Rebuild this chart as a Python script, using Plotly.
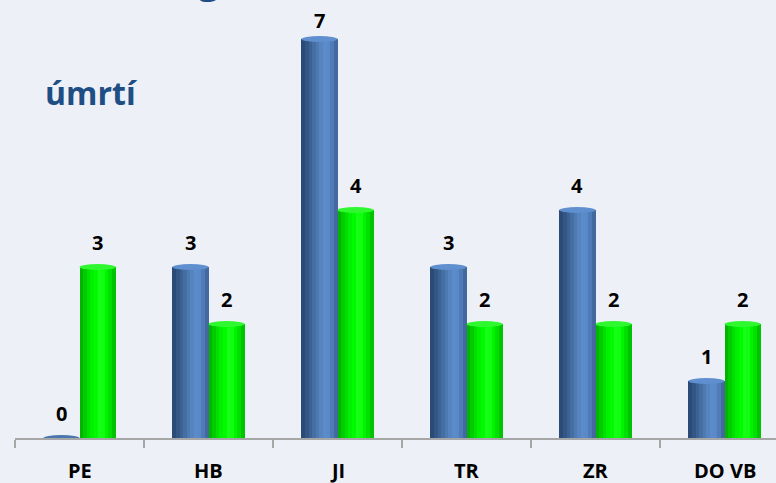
import plotly.graph_objects as go

categories = ["PE", "HB", "JI", "TR", "ZR", "DO VB"]
blue_values = [0, 3, 7, 3, 4, 1]
green_values = [3, 2, 4, 2, 2, 2]
side_label = "úmrtí"
title_fragment = "g"

# styling (cylinder shading simulated by vertical stripes)
blue_shades = ["#2a4a77", "#335685", "#3c6294", "#456ea3", "#4e7ab2", "#5684c0",
               "#5b8bc9", "#5a89c7", "#4f7cb8", "#43699f"]
green_shades = ["#00b400", "#00cc00", "#00e000", "#00f000", "#00fa00", "#18ff18",
                "#10ff10", "#00f400", "#00e000", "#00c400"]
bar_w = 0.28
n = len(blue_shades)
sw = bar_w / n

W, H = 776, 483
left = 15
plot_bottom = 438
unit = 57.0
ymax = plot_bottom / unit

fig = go.Figure()
idx = list(range(len(categories)))
for k, c in enumerate(blue_shades):
    fig.add_trace(go.Bar(x=idx, y=blue_values, width=sw * 1.06, offset=-bar_w + k * sw,
                         marker=dict(color=c, line=dict(width=0)), showlegend=False,
                         hoverinfo="skip"))
for k, c in enumerate(green_shades):
    fig.add_trace(go.Bar(x=idx, y=green_values, width=sw * 1.06, offset=k * sw,
                         marker=dict(color=c, line=dict(width=0)), showlegend=False,
                         hoverinfo="skip"))

# elliptical caps on the cylinders
for i, (b, g) in enumerate(zip(blue_values, green_values)):
    fig.add_shape(type="circle", xref="x", yref="y", x0=i - bar_w, x1=i,
                  ysizemode="pixel", yanchor=b, y0=-3, y1=3,
                  fillcolor="#5f8fcf" if b > 0 else "#4a76b0", line=dict(width=0))
    fig.add_shape(type="circle", xref="x", yref="y", x0=i, x1=i + bar_w,
                  ysizemode="pixel", yanchor=g, y0=-3, y1=3,
                  fillcolor="#30f830", line=dict(width=0))

label_font = dict(family="Open Sans", size=20, color="#000000")

def shift_for(v):
    px = plot_bottom - v * unit
    return min(25, px - 20)

for i, (b, g) in enumerate(zip(blue_values, green_values)):
    fig.add_annotation(x=i - bar_w / 2, y=b, text="<b>%d</b>" % b, showarrow=False,
                       yshift=shift_for(b), font=label_font, xref="x", yref="y")
    fig.add_annotation(x=i + bar_w / 2, y=g, text="<b>%d</b>" % g, showarrow=False,
                       yshift=shift_for(g), font=label_font, xref="x", yref="y")

# category labels under the axis
for i, c in enumerate(categories):
    fig.add_annotation(x=i, y=0, xref="x", yref="y", yshift=-32, yanchor="middle",
                       text="<b>%s</b>" % c, showarrow=False, borderpad=0,
                       font=dict(family="Open Sans", size=20, color="#000000"))

fig.add_annotation(x=(91 - left) / (W - left), y=(plot_bottom - 92) / plot_bottom,
                   xref="paper", yref="paper", xanchor="center", yanchor="middle",
                   text="<b>%s</b>" % side_label,
                   showarrow=False, font=dict(family="Open Sans", size=32, color="#1f4e85"))

fig.add_annotation(x=(209 - left) / (W - left), y=1, xref="paper", yref="paper",
                   xanchor="center", yanchor="bottom", yshift=-6,
                   text="<b>%s</b>" % title_fragment, showarrow=False,
                   font=dict(family="Open Sans", size=38, color="#1f4e85"))

fig.update_layout(
    width=W, height=H,
    margin=dict(l=left, r=0, t=0, b=H - plot_bottom),
    paper_bgcolor="#edf1f7", plot_bgcolor="rgba(0,0,0,0)",
    barmode="overlay", bargap=0,
    xaxis=dict(type="linear", range=[-0.5, 5.5 - 13 / 129], tickvals=idx,
               showticklabels=False, automargin=False,
               showgrid=False, zeroline=False, showline=True, linecolor="#a6a6a6", linewidth=2,
               ticks="",
               minor=dict(ticks="outside", tick0=-0.5, dtick=1, ticklen=8, tickwidth=2,
                          tickcolor="#a6a6a6", showgrid=False)),
    yaxis=dict(range=[0, ymax], visible=False, automargin=False),
)

fig.write_html("out.html", config={"displayModeBar": False},
               post_script="document.body.style.margin='0';")
